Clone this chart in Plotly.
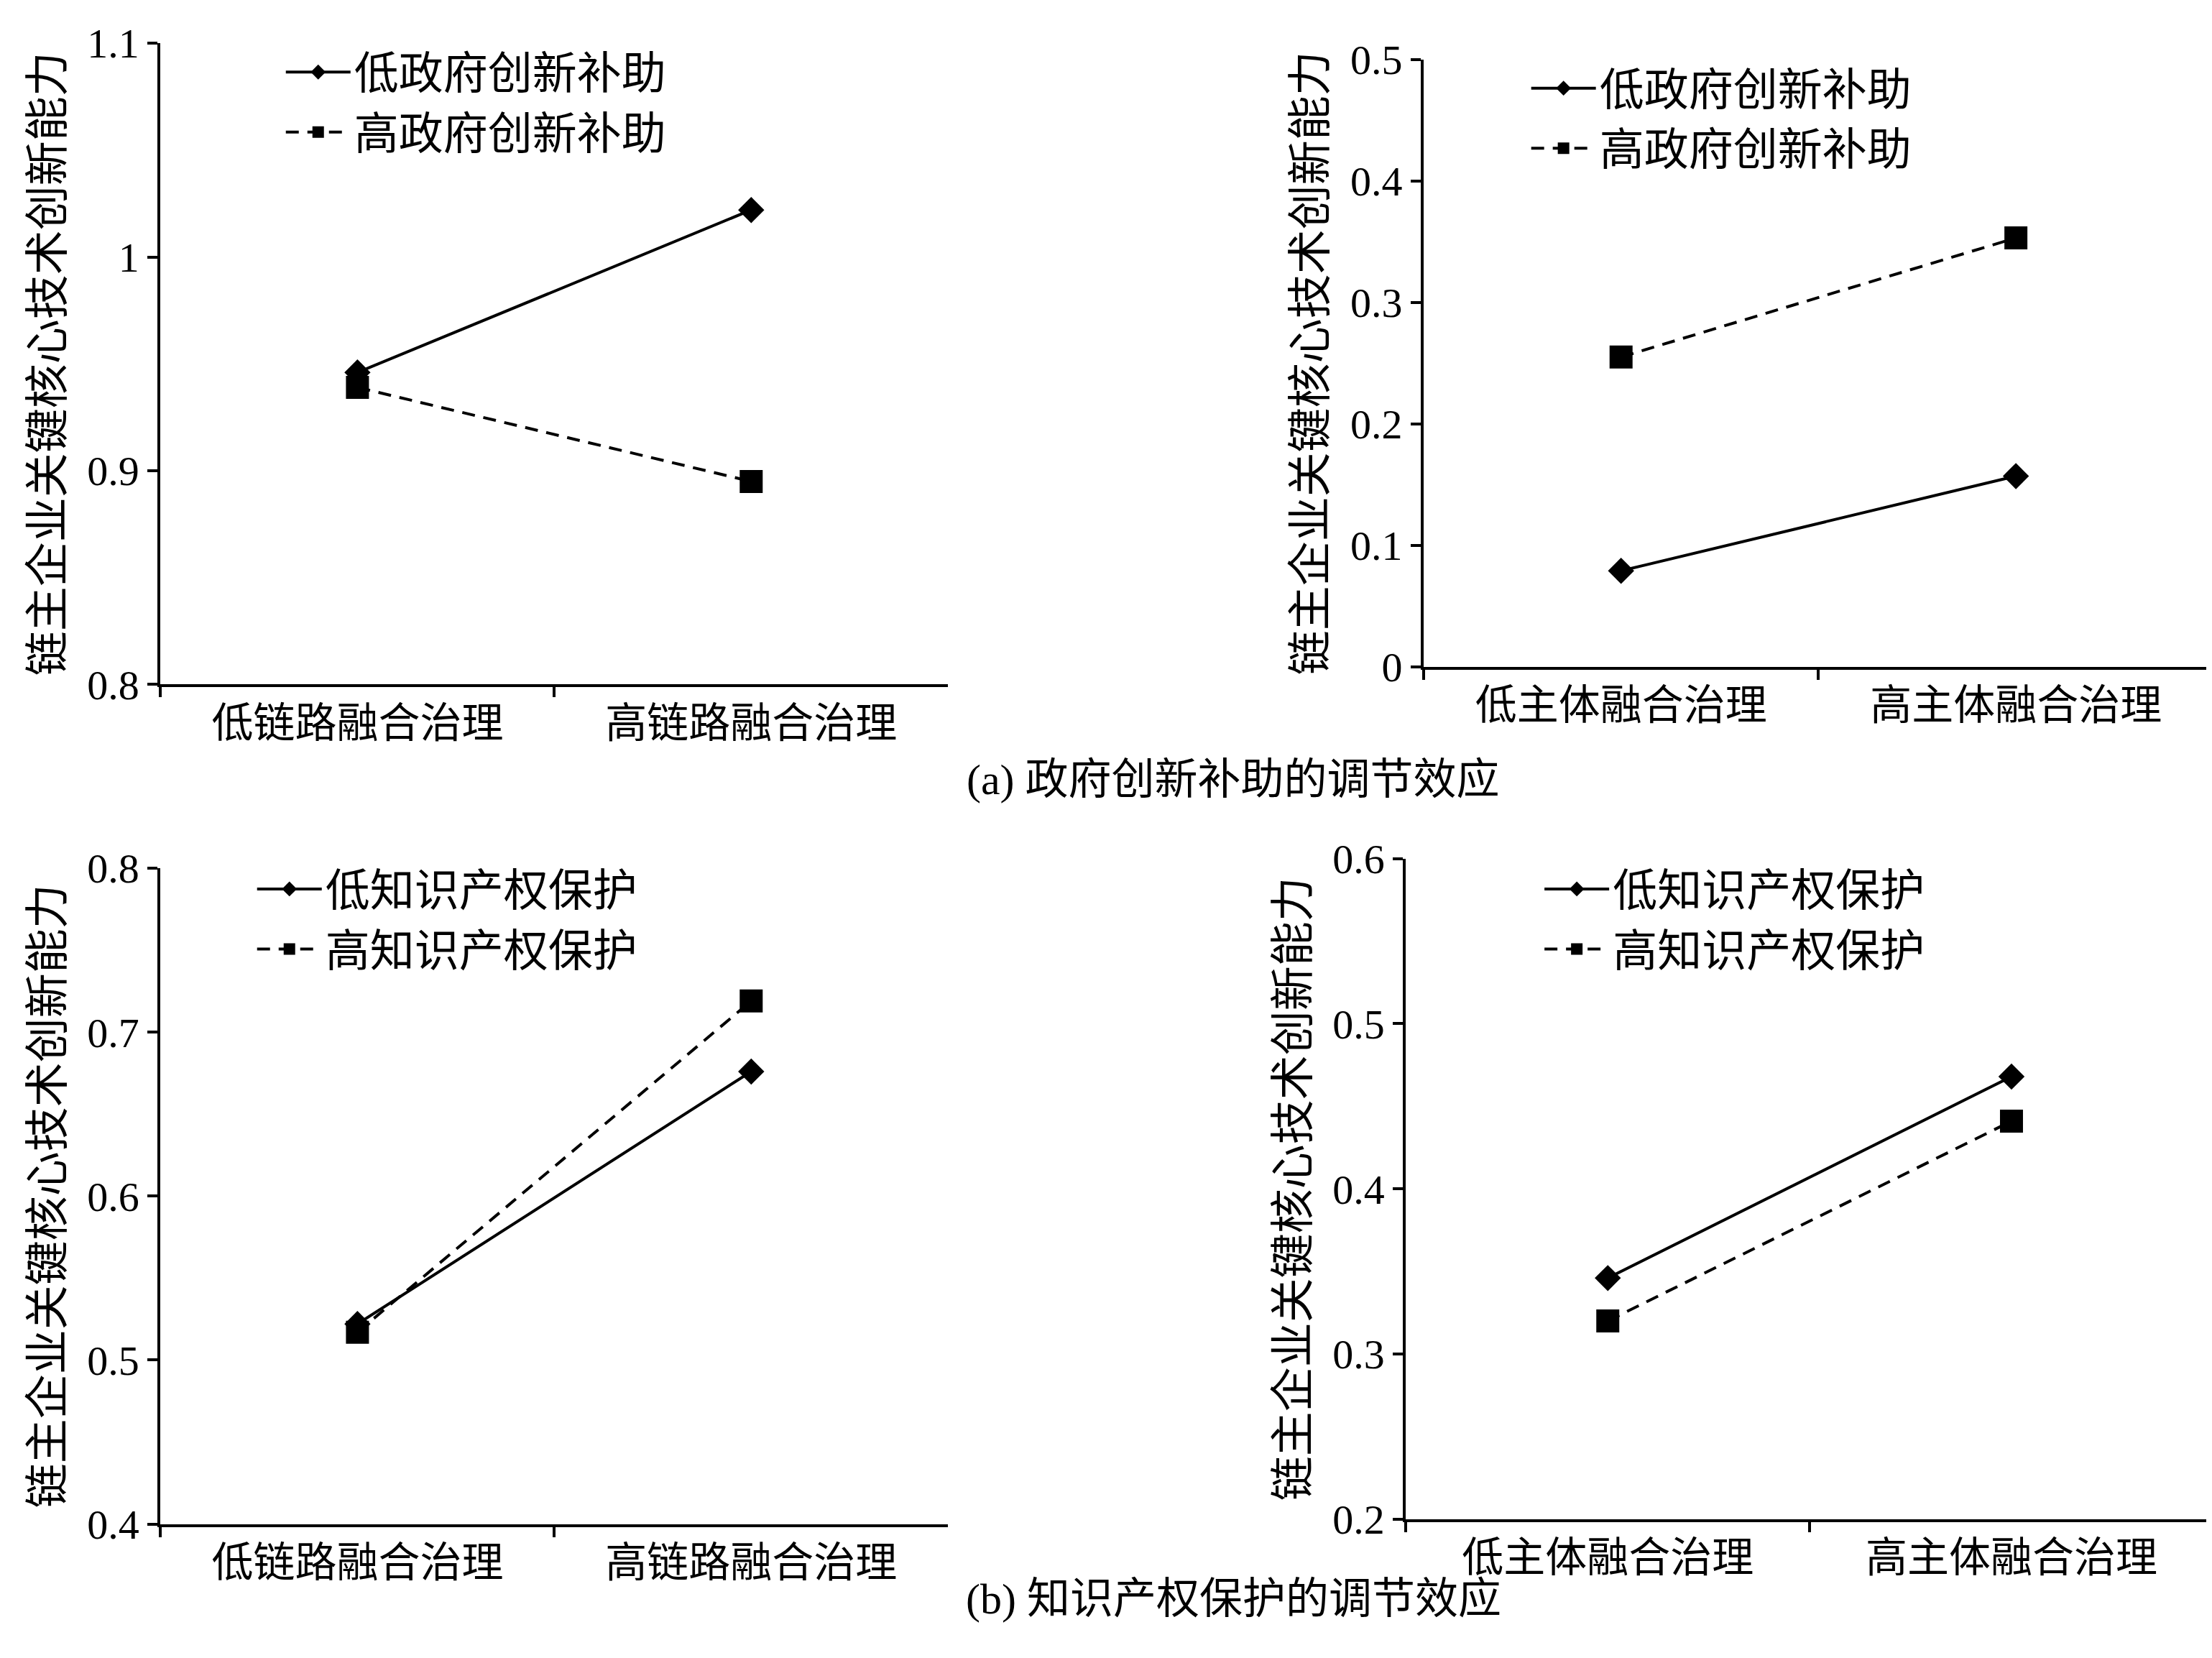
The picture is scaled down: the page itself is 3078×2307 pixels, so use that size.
import plotly.graph_objects as go

chain_cats = ["低链路融合治理", "高链路融合治理"]
subject_cats = ["低主体融合治理", "高主体融合治理"]

sub_low_name = "低政府创新补助"
sub_high_name = "高政府创新补助"
ip_low_name = "低知识产权保护"
ip_high_name = "高知识产权保护"

a1_low = [0.946, 1.022]
a1_high = [0.939, 0.895]
a2_low = [0.079, 0.157]
a2_high = [0.255, 0.353]
b1_low = [0.522, 0.676]
b1_high = [0.517, 0.719]
b2_low = [0.346, 0.468]
b2_high = [0.320, 0.441]

ytitle = "链主企业关键核心技术创新能力"
FONT = "Liberation Serif, Noto Sans CJK SC"

fig = go.Figure()

panels = [
    (chain_cats, a1_low, a1_high, sub_low_name, sub_high_name, "", "legend"),
    (subject_cats, a2_low, a2_high, sub_low_name, sub_high_name, "2", "legend2"),
    (chain_cats, b1_low, b1_high, ip_low_name, ip_high_name, "3", "legend3"),
    (subject_cats, b2_low, b2_high, ip_low_name, ip_high_name, "4", "legend4"),
]

for cats, low, high, ln, hn, ax, lg in panels:
    fig.add_trace(go.Scatter(x=cats, y=low, name=ln, mode="lines+markers",
                             line=dict(color="black", width=4),
                             marker=dict(symbol="diamond", size=28, color="black"),
                             xaxis="x" + ax, yaxis="y" + ax, legend=lg))
    fig.add_trace(go.Scatter(x=cats, y=high, name=hn, mode="lines+markers",
                             line=dict(color="black", width=4, dash="18px,12px"),
                             marker=dict(symbol="square", size=32, color="black"),
                             xaxis="x" + ax, yaxis="y" + ax, legend=lg))

xdoms = [[0.070, 0.426], [0.641, 0.998], [0.070, 0.426], [0.633, 0.998]]
ydoms = [[0.593, 0.991], [0.604, 0.981], [0.072, 0.479], [0.075, 0.485]]
yranges = [[0.8, 1.1], [0, 0.5], [0.4, 0.8], [0.2, 0.6]]

axstyle = dict(showline=True, linecolor="black", linewidth=4, ticks="outside",
               ticklen=14, tickwidth=4, tickcolor="black", showgrid=False,
               zeroline=False, tickfont=dict(size=58, color="black", family=FONT))

layout = {}
for i in range(4):
    s = "" if i == 0 else str(i + 1)
    layout["xaxis" + s] = dict(axstyle, domain=xdoms[i], anchor="y" + s,
                               tickson="boundaries", range=[-0.5, 1.5])
    layout["yaxis" + s] = dict(axstyle, domain=ydoms[i], anchor="x" + s,
                               range=yranges[i], dtick=0.1,
                               title=dict(text=ytitle, standoff=14,
                                          font=dict(size=62, color="black", family=FONT)))

legpos = [(0.125, 0.994), (0.688, 0.984), (0.112, 0.487), (0.694, 0.487)]
for i, (lx, ly) in enumerate(legpos):
    key = "legend" if i == 0 else "legend" + str(i + 1)
    layout[key] = dict(x=lx, y=ly, xanchor="left", yanchor="top",
                       bgcolor="rgba(0,0,0,0)", itemwidth=90,
                       font=dict(size=62, color="black", family=FONT))

fig.update_layout(**layout)
fig.update_layout(width=3078, height=2307, plot_bgcolor="white",
                  paper_bgcolor="white", margin=dict(l=0, r=0, t=0, b=0))

fig.add_annotation(text="(a) 政府创新补助的调节效应", x=0.555, y=0.534, xref="paper",
                   yref="paper", showarrow=False, font=dict(size=60, color="black", family=FONT))
fig.add_annotation(text="(b) 知识产权保护的调节效应", x=0.555, y=0.010, xref="paper",
                   yref="paper", showarrow=False, font=dict(size=60, color="black", family=FONT))

fig.write_html("out.html")
